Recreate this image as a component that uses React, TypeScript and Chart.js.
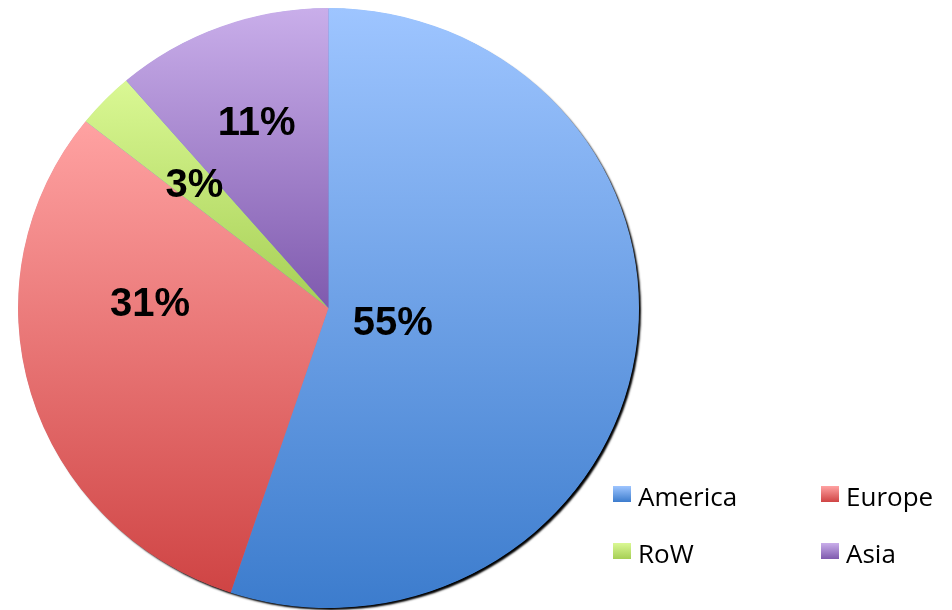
import React, { useEffect, useRef } from "react";
import { Chart, registerables } from "chart.js";

Chart.register(...registerables);

const regions = ["America", "Europe", "RoW", "Asia"];
const shares = [55.1, 30.6, 3.0, 11.3];
const topColors = ["#9EC5FF", "#FFA2A2", "#DAF894", "#C9AEEA"];
const bottomColors = ["#3C7CCD", "#CF4444", "#A6CF55", "#7F5AAE"];
// label placement tweaks: radial fraction and angular nudge (degrees)
const labelRadius = [0.212, 0.575, 0.6, 0.665];
const labelNudge = [3, 18.4, 0, 0];

const SX = 1.035; // horizontal stretch of the pie (slightly elliptical)

function sliceYRange(i: number, cy: number, r: number): [number, number] {
  const total = shares.reduce((a, b) => a + b, 0);
  let start = 0;
  for (let k = 0; k < i; k++) start += shares[k];
  const a0 = (start / total) * 360;
  const a1 = ((start + shares[i]) / total) * 360;
  const ys = [cy, cy - r * Math.cos((a0 * Math.PI) / 180), cy - r * Math.cos((a1 * Math.PI) / 180)];
  if (a0 <= 0.001 || a1 >= 359.999) ys.push(cy - r);
  if (a0 <= 180 && a1 >= 180) ys.push(cy + r);
  return [Math.min(...ys), Math.max(...ys)];
}

const stretchPlugin = {
  id: "stretch",
  beforeDatasetsDraw(chart: any) {
    const meta = chart.getDatasetMeta(0);
    const el = meta.data[0];
    if (!el) return;
    const { x, y, outerRadius } = el.getProps(["x", "y", "outerRadius"], true);
    const ctx = chart.ctx;
    ctx.save();
    ctx.translate(x, y);
    ctx.scale(SX, 1);
    ctx.translate(-x, -y);
    // shadow disc behind the pie
    ctx.save();
    ctx.shadowColor = "rgba(0,0,0,1)";
    ctx.shadowOffsetX = 2.5;
    ctx.shadowOffsetY = 2.5;
    ctx.shadowBlur = 2;
    ctx.beginPath();
    ctx.arc(x, y, outerRadius - 0.5, 0, Math.PI * 2);
    ctx.fillStyle = "#5a8fd8";
    ctx.fill();
    ctx.restore();
  },
  afterDatasetsDraw(chart: any) {
    const ctx = chart.ctx;
    ctx.restore();
    const meta = chart.getDatasetMeta(0);
    ctx.save();
    ctx.font = "bold 40px 'Liberation Sans', Arial, sans-serif";
    ctx.fillStyle = "#000";
    ctx.textAlign = "center";
    ctx.textBaseline = "alphabetic";
    const total = shares.reduce((a, b) => a + b, 0);
    meta.data.forEach((el: any, i: number) => {
      const { x, y, startAngle, endAngle, outerRadius } = el.getProps(
        ["x", "y", "startAngle", "endAngle", "outerRadius"],
        true
      );
      const mid = (startAngle + endAngle) / 2 + (labelNudge[i] * Math.PI) / 180;
      const d = outerRadius * labelRadius[i];
      const lx = x + SX * d * Math.cos(mid);
      const ly = y + d * Math.sin(mid);
      const txt = Math.round((shares[i] / total) * 100) + "%";
      ctx.fillText(txt, lx, ly + 14);
    });
    ctx.restore();

    // legend
    ctx.save();
    ctx.font = "26px 'Open Sans', sans-serif";
    ctx.textAlign = "left";
    ctx.textBaseline = "alphabetic";
    const colX = [613, 821];
    const rowY = [486, 543];
    regions.forEach((name, i) => {
      const cx = colX[i % 2];
      const ry = rowY[Math.floor(i / 2)];
      const g = ctx.createLinearGradient(0, ry, 0, ry + 16);
      g.addColorStop(0, topColors[i]);
      g.addColorStop(1, bottomColors[i]);
      ctx.fillStyle = g;
      ctx.fillRect(cx, ry, 18, 16);
      ctx.fillStyle = "#000";
      ctx.fillText(name, cx + 25, ry + 19.5);
    });
    ctx.restore();
  },
};

export default function App() {
  const ref = useRef<HTMLCanvasElement>(null);
  useEffect(() => {
    if (!ref.current) return;
    const chart = new Chart(ref.current, {
      type: "pie",
      data: {
        labels: regions,
        datasets: [
          {
            data: shares,
            borderWidth: 0,
            backgroundColor: (c: any) => {
              const chart = c.chart;
              const area = chart.chartArea;
              const i = c.dataIndex;
              if (!area || i === undefined) return topColors[i ?? 0];
              const r = Math.min(area.right - area.left, area.bottom - area.top) / 2;
              const cy = (area.top + area.bottom) / 2;
              const [y0, y1] = sliceYRange(i, cy, r);
              const g = chart.ctx.createLinearGradient(0, y0, 0, y1);
              g.addColorStop(0, topColors[i]);
              g.addColorStop(1, bottomColors[i]);
              return g;
            },
          },
        ],
      },
      options: {
        responsive: false,
        animation: false,
        layout: { padding: { top: 8, bottom: 2, left: 28, right: 323 } },
        plugins: {
          legend: { display: false },
          tooltip: { enabled: false },
        },
      },
      plugins: [stretchPlugin],
    });
    return () => chart.destroy();
  }, []);
  return (
    <div style={{ position: "absolute", left: 0, top: 0, width: 952, height: 610, background: "#fff" }}>
      <canvas ref={ref} width={952} height={610} style={{ display: "block" }} />
    </div>
  );
}
